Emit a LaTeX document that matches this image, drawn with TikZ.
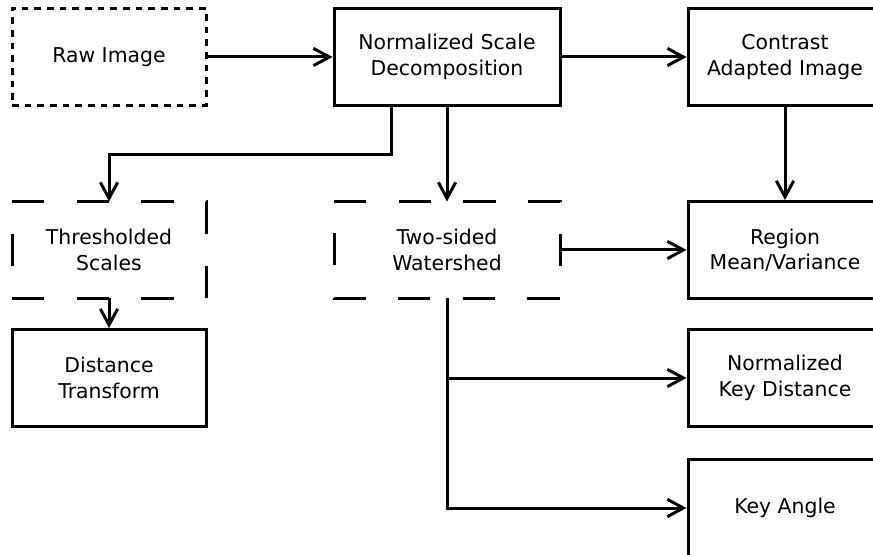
\documentclass[tikz,border=0pt]{standalone}
\usepackage{fontspec}
\setmainfont{DejaVu Sans}
\usetikzlibrary{arrows.meta, positioning}
\tikzset{
  box/.style={draw, line width=2.25pt, minimum width=145.5pt, minimum height=72.75pt,
    align=center, font=\fontsize{15.3}{19}\selectfont, inner sep=0pt},
  widebox/.style={box, minimum width=169.5pt},
  dotbox/.style={box, dash pattern=on 5pt off 4.5pt},
  openbox/.style={box, draw=none, outer sep=0pt},
  dashline/.style={line width=2.25pt, dash pattern=on 24.25pt off 24.25pt},
  link/.style={line width=2.25pt, -{Straight Barb[length=12pt,width=13pt,line width=2.25pt]}}
}

\begin{document}
\begin{tikzpicture}[x=0.75pt, y=-0.75pt]
  \useasboundingbox (0,0) rectangle (873,555);
  \clip (0,0) rectangle (873,555);

  \node[dotbox] (raw) at (109, 57) {Raw Image};
  \node[widebox] (nsd) at (447, 57) {Normalized Scale\\Decomposition};
  \node[box] (cai) at (785, 57) {Contrast\\Adapted Image};
  \node[openbox] (thr) at (109, 250) {Thresholded\\Scales};
  \node[openbox, minimum width=169.5pt] (tsw) at (447, 250) {Two-sided\\Watershed};
  \node[box] (rmv) at (785, 250) {Region\\Mean/Variance};
  \node[box] (dst) at (109, 378) {Distance\\Transform};
  \node[box] (nkd) at (785, 378) {Normalized\\Key Distance};
  \node[box] (ang) at (785, 508) {Key Angle};

  % dashed borders, clockwise from the top left corner
  \foreach \n in {thr, tsw}
    \draw[dashline] (\n.north west) -- (\n.north east) -- (\n.south east) -- (\n.south west) -- cycle;

  \draw[link] (raw) -- (nsd);
  \draw[link] (nsd) -- (cai);
  \draw[link] ([xshift=-42pt]nsd.south) -- ++(0,48) -| (thr.north);
  \draw[link] (nsd) -- (tsw);
  \draw[link] (cai) -- (rmv);
  \draw[link] (tsw) -- (rmv);
  \draw[link] (thr) -- (dst);
  \draw[link] (tsw.south) |- (ang.west);
  \draw[link] (tsw.south |- nkd.west) -- (nkd.west);
\end{tikzpicture}
\end{document}
